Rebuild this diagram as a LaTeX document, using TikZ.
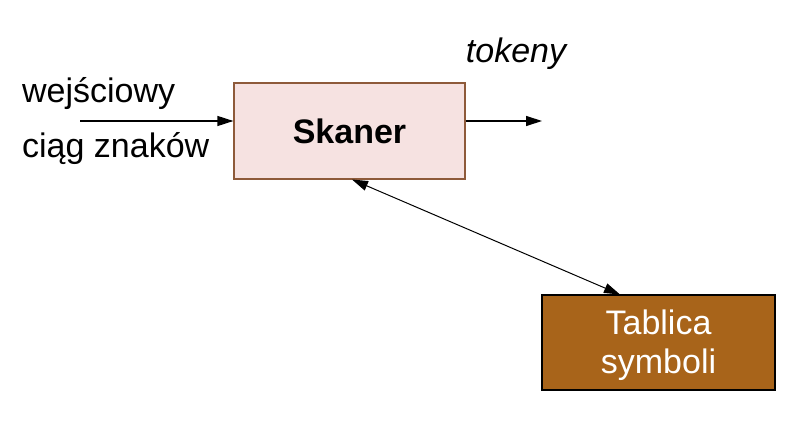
\documentclass[tikz,border=0pt]{standalone}
\usepackage{fontspec}
\setmainfont{Liberation Sans}
\usetikzlibrary{arrows.meta}
\definecolor{skfill}{HTML}{F6E2E1}
\definecolor{skdraw}{HTML}{8E5A3A}
\definecolor{tbfill}{HTML}{A8641A}
\tikzset{
  lbl/.style={font=\fontsize{34}{38}\selectfont, inner sep=0pt},
  tip/.tip={Triangle[length=16pt,width=10pt]},
  conn/.style={line width=1.2pt, -tip},
  dconn/.style={line width=1pt, tip-tip}
}
\begin{document}
\begin{tikzpicture}[x=1pt,y=-1pt]
\useasboundingbox (0,0) rectangle (799,438);
\node[draw=skdraw, fill=skfill, line width=1.2pt, minimum width=231pt, minimum height=96pt, inner sep=0pt] (sk) at (349.5,131) {};
\node[lbl, font=\fontsize{34}{38}\selectfont\bfseries] (skt) at (349.5,131) {Skaner};
\node[draw=black, fill=tbfill, line width=1.2pt, minimum width=233pt, minimum height=95pt, inner sep=0pt] (tb) at (658.5,342.5) {};
\node[lbl, text=white, align=center, font=\fontsize{34}{39}\selectfont] (tbt) at (658.5,345) {Tablica\\symboli};
\node[lbl, anchor=base west] (w1) at (22,103) {wejściowy};
\node[lbl, anchor=base west] (w2) at (22,158) {ciąg znaków};
\node[lbl, anchor=base, font=\fontsize{34}{38}\selectfont\itshape] (tok) at (516,63) {tokeny};
\coordinate (in) at (80,121);
\coordinate (out) at (542,121);
\coordinate (a) at (352,179.5);
\coordinate (b) at (620,294.5);
\draw[conn] (in) -- (sk.west |- in);
\draw[conn] (sk.east |- out) -- (out);
\draw[dconn] (a) -- (b);
\end{tikzpicture}
\end{document}
